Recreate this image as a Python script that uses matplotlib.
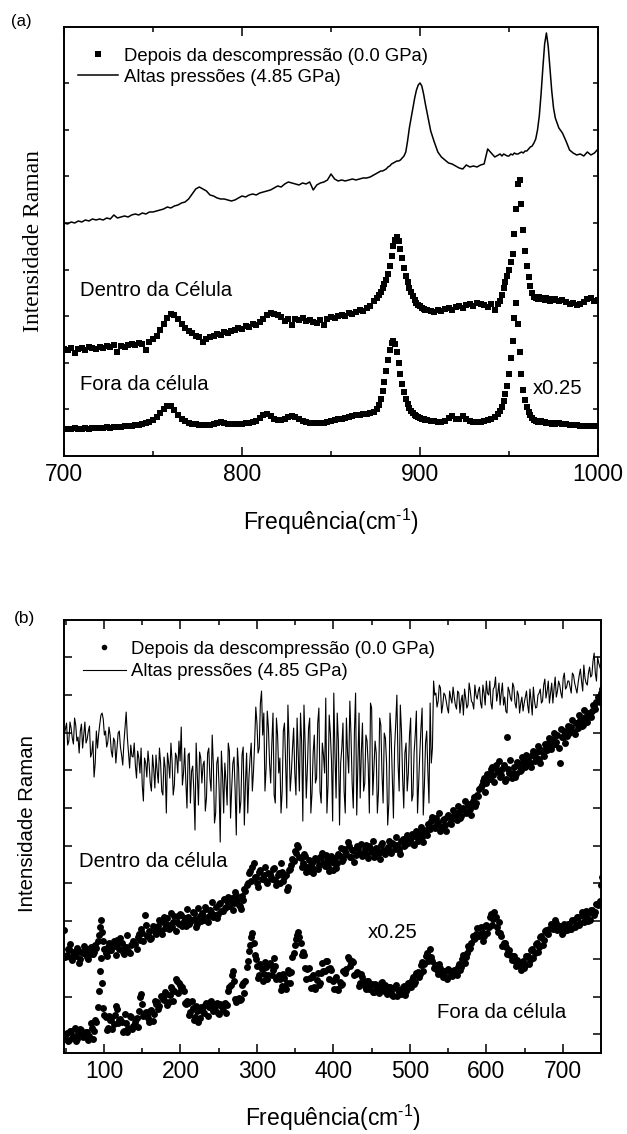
import numpy as np
import matplotlib
matplotlib.use("Agg")
import matplotlib.pyplot as plt
from matplotlib.ticker import MultipleLocator

plt.rcParams['font.family'] = ['Liberation Sans', 'DejaVu Sans']
plt.rcParams['mathtext.fontset'] = 'custom'
plt.rcParams['mathtext.rm'] = 'Liberation Sans'
plt.rcParams['mathtext.default'] = 'regular'

# ---------------- panel (a): 700-1000 cm-1 ----------------
# frequency grid (denser around the strong bands)
freq_a = np.concatenate([np.arange(700, 876, 2), np.arange(876, 904),
                         np.arange(904, 944, 2), np.arange(944, 976),
                         np.arange(976, 1001, 2)])

# high pressure (4.85 GPa), line
alta_a = [233, 232, 234, 233, 235, 234, 236, 235, 237, 236,
          237, 236, 238, 237, 241, 238, 239, 240, 239, 241,
          242, 241, 243, 242, 244, 244, 245, 246, 247, 249,
          248, 250, 251, 253, 254, 257, 262, 267, 269, 267,
          265, 261, 260, 258, 257, 257, 256, 255, 256, 258,
          260, 259, 261, 262, 261, 263, 264, 265, 266, 268,
          270, 269, 272, 274, 273, 272, 271, 273, 272, 274,
          266, 271, 273, 274, 276, 282, 277, 275, 276, 275,
          276, 277, 276, 277, 278, 278, 279, 281,
          283, 284, 285, 285, 286, 287, 289, 290, 292, 293,
          294, 295, 295, 296, 298, 300, 304, 315, 328, 338,
          348, 358, 366, 371, 373, 370, 362, 352,
          343, 325, 314, 304, 299, 296, 293, 292, 290, 288,
          287, 291, 289, 290, 289, 291, 292, 307, 303, 299,
          301, 302, 300, 302, 301, 300, 300, 302, 301, 303,
          302, 302, 303, 304, 303, 305, 305, 307, 309, 310,
          313, 317, 326, 340, 362, 388, 412, 423, 410, 388,
          365, 348,
          338, 328, 323, 315, 306, 303, 301, 302, 300, 304, 301, 303, 307]

# after decompression, inside the cell
dentro_a = [107, 106, 108, 103, 107, 108, 106, 109, 108, 107,
            109, 108, 110, 109, 111, 104, 110, 109, 111, 112,
            111, 113, 112, 106, 114, 117, 120, 126, 132, 138,
            142, 141, 137, 132, 128, 125, 123, 120, 119, 114,
            117, 119, 120, 122, 121, 124, 123, 125, 126, 128,
            127, 130, 129, 132, 131, 134, 137, 141, 143, 142,
            141, 139, 135, 137, 131, 137, 136, 138, 135, 136,
            134, 133, 136, 131, 137, 139, 138, 140, 141, 140,
            143, 142, 144, 146, 145, 148, 150, 155,
            158, 161, 164, 168, 172, 176, 182, 190, 200, 210,
            216, 219, 215, 207, 198, 188, 180, 174, 168, 164,
            160, 156, 153, 151, 150, 148, 147, 146,
            146, 145, 144, 146, 145, 147, 148, 146, 149, 150,
            148, 151, 152, 150, 153, 152, 151, 149, 152, 146,
            152, 155, 161, 168, 174, 180, 186, 194, 202, 222,
            247, 272, 276, 252, 226, 205, 190, 179, 170, 163,
            159, 158, 157, 159, 157, 158, 156, 158, 157, 155,
            157, 156,
            157, 155, 156, 154, 152, 153, 151, 152, 154, 157, 158, 155, 156]

# after decompression, outside the cell (x0.25)
fora_a = [27, 27, 27, 28, 27, 27, 28, 27, 28, 28,
          28, 28, 29, 28, 29, 29, 29, 30, 30, 30,
          31, 31, 32, 33, 34, 36, 39, 43, 47, 50,
          50, 46, 41, 37, 35, 33, 32, 32, 31, 31,
          31, 31, 32, 33, 34, 33, 32, 32, 32, 32,
          32, 33, 33, 34, 35, 38, 41, 42, 40, 37,
          36, 36, 37, 39, 40, 39, 37, 35, 34, 33,
          33, 33, 33, 33, 34, 35, 36, 37, 37, 38,
          39, 40, 41, 41, 42, 42, 43, 44,
          47, 51, 57, 65, 74, 85, 96, 106, 113, 115,
          112, 104, 93, 82, 72, 64, 57, 52, 48, 45,
          43, 41, 40, 39, 38, 37, 37, 36,
          36, 35, 35, 34, 34, 35, 38, 40, 37, 37,
          40, 37, 35, 34, 34, 34, 35, 36, 37, 39,
          42, 45, 49, 55, 62, 70, 82, 98, 115, 138,
          153, 132, 104, 82, 66, 56, 49, 44, 41, 38,
          36, 35, 34, 34, 35, 34, 34, 33, 33, 33,
          32, 33,
          32, 33, 32, 32, 31, 31, 31, 30, 30, 30, 30, 30, 30]

# ---------------- panel (b): 50-750 cm-1 ----------------
# two interleaved sample sets: freq_b and freq_b + 1.5
freq_b = np.arange(48, 751, 3)
freq_b2 = freq_b + 1.5

alta_b = [318, 330, 312, 325, 309, 328, 316, 322, 305, 331,
          314, 327, 300, 276, 322, 319, 338, 334, 322, 311,
          318, 296, 312, 305, 322, 298, 310, 341, 300, 308,
          296, 288, 302, 280, 268, 295, 276, 289, 262, 284,
          298, 270, 290, 258, 285, 300, 275, 292, 268, 296,
          312, 326, 280, 272, 298, 250, 287, 223, 280, 301,
          270, 292, 255, 305, 262, 288, 240, 296, 211, 278,
          290, 248, 302, 265, 296, 218, 285, 252, 306, 270,
          240, 295, 262, 310, 330, 305, 362, 340, 285, 325,
          270, 340, 250, 318, 295, 262, 330, 245, 312, 280,
          325, 258, 300, 340, 232, 310, 285, 335, 260, 318,
          275, 345, 250, 298, 355, 268, 320, 232, 300, 340,
          228, 305, 262, 335, 280, 318, 245, 360, 290, 255,
          330, 270, 312, 240, 345, 285, 300, 262, 328, 250,
          315, 228, 340, 275, 305, 358, 262, 322, 245, 310,
          280, 335, 258, 318, 240, 300, 345, 268, 322, 250,
          290, 372, 360, 352, 365, 348, 358, 345, 362, 350,
          356, 344, 360, 352, 338, 355, 348, 362, 350, 368,
          354, 366, 345, 360, 372, 358, 350, 364, 376, 360,
          348, 370, 356, 340, 362, 352, 366, 345, 358, 350,
          342, 356, 348, 364, 338, 352, 346, 360, 350, 368,
          355, 372, 360, 350, 376, 362, 368, 355, 380, 366,
          372, 360, 378, 365, 370, 384, 362, 375, 368, 386,
          378, 400, 372, 390, 382]

alta_b2 = [324, 308, 331, 315, 335, 312, 300, 329, 318, 310,
           322, 296, 312, 290, 305, 329, 340, 318, 306, 326,
           302, 315, 290, 320, 306, 288, 325, 316, 285, 297,
           310, 275, 295, 305, 252, 290, 302, 270, 298, 265,
           282, 305, 262, 296, 240, 290, 310, 258, 300, 280,
           292, 268, 305, 245, 300, 282, 262, 310, 248, 295,
           288, 242, 300, 275, 318, 230, 290, 265, 302, 240,
           272, 310, 235, 290, 262, 305, 240, 298, 228, 300,
           275, 310, 282, 346, 300, 350, 318, 262, 342, 290,
           310, 258, 335, 280, 240, 322, 290, 348, 262, 305,
           280, 335, 262, 310, 348, 255, 325, 240, 300, 270,
           330, 262, 310, 280, 240, 338, 292, 360, 255, 312,
           290, 330, 240, 300, 352, 270, 322, 238, 340, 300,
           262, 318, 288, 350, 258, 312, 240, 335, 280, 320,
           290, 250, 318, 235, 330, 290, 348, 275, 300, 262,
           318, 252, 300, 342, 270, 325, 238, 310, 282, 350,
           305, 358, 346, 368, 340, 360, 352, 340, 355, 366,
           348, 362, 340, 358, 364, 345, 370, 352, 344, 358,
           362, 350, 368, 348, 360, 372, 344, 366, 352, 370,
           360, 348, 342, 366, 355, 370, 350, 362, 340, 356,
           350, 362, 340, 352, 366, 345, 358, 364, 352, 374,
           362, 350, 370, 364, 356, 372, 360, 375, 364, 372,
           366, 380, 370, 360, 378, 372, 388, 370, 380, 376,
           392, 380, 396, 386, 384]

dentro_b = [123, 98, 104, 95, 101, 97, 103, 94, 100, 102,
            96, 104, 99, 101, 105, 118, 133, 112, 100, 106,
            103, 109, 107, 113, 104, 110, 99, 106, 102, 108,
            112, 109, 116, 113, 120, 138, 117, 122, 115, 124,
            119, 127, 122, 131, 125, 135, 128, 126, 137, 131,
            129, 138, 132, 127, 136, 131, 141, 134, 129, 137,
            140, 133, 144, 137, 141, 136, 146, 139, 150, 142,
            145, 152, 147, 155, 150, 158, 148, 144, 153, 162,
            170, 182, 186, 176, 170, 181, 174, 178, 172, 180,
            176, 184, 173, 178, 170, 181, 176, 163, 183, 188,
            192, 200, 206, 195, 190, 197, 186, 182, 190, 184,
            193, 188, 196, 190, 198, 186, 191, 183, 195, 190,
            197, 192, 204, 199, 207, 196, 203, 198, 205, 200,
            197, 204, 199, 207, 201, 196, 205, 200, 208, 203,
            199, 206, 202, 210, 204, 208, 203, 212, 207, 214,
            210, 215, 209, 217, 212, 220, 216, 223, 218, 226,
            232, 226, 235, 229, 222, 233, 228, 236, 230, 234,
            238, 233, 241, 237, 245, 240, 248, 244, 252, 247,
            258, 264, 268, 275, 270, 279, 284, 278, 288, 281,
            276, 284, 272, 316, 280, 275, 286, 279, 288, 283,
            292, 286, 295, 289, 298, 292, 301, 294, 303, 297,
            305, 310, 304, 314, 309, 318, 290, 316, 322, 317,
            320, 326, 321, 330, 325, 333, 328, 336, 331, 339,
            342, 347, 351, 355, 360]

dentro_b2 = [96, 104, 109, 93, 98, 105, 90, 101, 107, 99,
             94, 106, 99, 108, 112, 126, 121, 104, 97, 110,
             103, 112, 98, 110, 115, 101, 106, 118, 100, 109,
             110, 104, 119, 124, 112, 128, 118, 114, 127, 121,
             125, 133, 119, 136, 129, 124, 140, 131, 122, 137,
             139, 127, 135, 144, 129, 133, 140, 126, 145, 132,
             137, 146, 131, 143, 151, 138, 135, 149, 142, 154,
             146, 156, 150, 143, 161, 153, 147, 157, 164, 168,
             180, 172, 190, 176, 166, 183, 175, 186, 170, 179,
             174, 185, 168, 180, 190, 172, 178, 166, 184, 194,
             202, 208, 196, 186, 199, 181, 193, 188, 180, 195,
             184, 196, 200, 187, 193, 182, 197, 190, 185, 199,
             205, 194, 202, 211, 196, 203, 191, 207, 200, 209,
             199, 208, 195, 205, 212, 198, 203, 194, 210, 201,
             203, 212, 200, 209, 216, 205, 199, 214, 208, 218,
             212, 219, 208, 222, 215, 226, 211, 220, 229, 224,
             236, 225, 231, 240, 226, 234, 222, 238, 229, 243,
             239, 247, 235, 244, 252, 241, 249, 238, 256, 250,
             257, 266, 272, 261, 279, 274, 286, 271, 283, 292,
             278, 288, 274, 284, 293, 280, 276, 291, 282, 296,
             288, 298, 291, 286, 302, 295, 307, 290, 300, 309,
             303, 315, 308, 320, 311, 305, 324, 316, 310, 327,
             324, 333, 319, 330, 338, 327, 343, 332, 340, 336,
             348, 344, 356, 351, 364]

fora_b = [14, 20, 13, 22, 17, 12, 21, 24, 16, 19,
          21, 17, 25, 22, 31, 62, 95, 45, 36, 25,
          33, 24, 38, 44, 33, 31, 22, 30, 25, 36,
          27, 31, 26, 56, 49, 40, 38, 31, 43, 39,
          49, 44, 57, 54, 61, 48, 58, 64, 62, 72,
          70, 65, 62, 49, 50, 41, 45, 36, 42, 35,
          44, 40, 50, 46, 52, 42, 48, 40, 49, 43,
          50, 48, 66, 78, 72, 51, 55, 54, 70, 72,
          92, 108, 120, 98, 87, 78, 84, 79, 86, 78,
          88, 83, 87, 76, 74, 67, 75, 70, 80, 81,
          100, 114, 121, 110, 101, 85, 84, 75, 76, 66,
          73, 68, 80, 82, 92, 84, 85, 72, 74, 64,
          71, 69, 82, 84, 94, 90, 91, 79, 80, 70,
          76, 67, 72, 64, 69, 61, 66, 60, 70, 63,
          68, 60, 66, 58, 66, 57, 63, 59, 67, 62,
          70, 66, 76, 71, 81, 79, 91, 89, 100, 96,
          96, 85, 88, 79, 85, 76, 82, 74, 82, 77,
          83, 78, 89, 86, 98, 96, 107, 105, 117, 115,
          125, 117, 121, 117, 128, 126, 139, 134, 136, 121,
          120, 107, 110, 99, 103, 93, 97, 87, 91, 83,
          92, 88, 97, 93, 104, 100, 110, 106, 117, 113,
          123, 119, 129, 124, 133, 123, 127, 119, 129, 123,
          129, 124, 133, 128, 136, 130, 137, 132, 138, 133,
          143, 138, 149, 150, 168]

fora_b2 = [18, 12, 22, 15, 25, 14, 19, 23, 17, 21,
           13, 30, 14, 33, 46, 82, 70, 38, 23, 37,
           34, 29, 47, 30, 34, 21, 39, 21, 37, 24,
           27, 35, 42, 59, 37, 41, 35, 42, 32, 52,
           51, 47, 56, 53, 59, 51, 66, 52, 74, 60,
           68, 66, 50, 52, 38, 52, 33, 47, 31, 46,
           41, 48, 37, 51, 46, 43, 50, 39, 47, 49,
           40, 62, 68, 82, 54, 54, 53, 68, 60, 86,
           102, 116, 110, 94, 75, 89, 72, 91, 74, 90,
           78, 95, 74, 78, 63, 79, 64, 83, 70, 96,
           108, 118, 116, 98, 98, 74, 85, 65, 78, 64,
           80, 70, 90, 82, 92, 74, 83, 64, 76, 63,
           68, 82, 80, 96, 87, 92, 78, 81, 67, 79,
           70, 64, 72, 67, 61, 69, 63, 66, 71, 62,
           59, 66, 62, 57, 68, 63, 60, 66, 58, 64,
           68, 73, 69, 80, 76, 88, 82, 97, 92, 104,
           92, 87, 83, 89, 79, 82, 76, 84, 78, 80,
           81, 86, 83, 94, 90, 100, 104, 110, 114, 119,
           118, 126, 112, 127, 120, 136, 128, 141, 126, 131,
           117, 110, 106, 101, 98, 97, 92, 93, 88, 89,
           85, 97, 89, 103, 95, 109, 101, 116, 108, 122,
           120, 124, 126, 127, 130, 126, 124, 121, 127, 129,
           124, 133, 126, 136, 128, 141, 131, 142, 132, 143,
           140, 141, 148, 152, 176]

lbl_dep = 'Depois da descompressão (0.0 GPa)'
lbl_alt = 'Altas pressões (4.85 GPa)'
xlab = 'Frequência(cm$^{\\text{-1}}$)'


def style_axes(ax, ylen):
    ax.tick_params(which='both', direction='in', top=True, right=True,
                   width=1.1, labelsize=16.5)
    ax.tick_params(axis='x', which='major', length=6.5, pad=5)
    ax.tick_params(axis='x', which='minor', length=3.6)
    ax.tick_params(axis='y', which='major', length=ylen, labelleft=False)
    for s in ax.spines.values():
        s.set_linewidth(1.4)


fig = plt.figure(figsize=(6.27, 11.34), dpi=100)

# ----- (a)
ax1 = fig.add_axes([0.1021, 0.5979, 0.8517, 0.3783])
ax1.plot(freq_a, dentro_a, 's', ms=4.3, mew=0, color='k', label=lbl_dep)
ax1.plot(freq_a, fora_a, 's', ms=4.6, mew=0, color='k')
ax1.plot(freq_a, alta_a, '-', lw=1.1, color='k', label=lbl_alt)
ax1.set_xlim(700, 1000)
ax1.set_ylim(0, 429)
ax1.set_xticks([700, 800, 900, 1000])
ax1.xaxis.set_minor_locator(MultipleLocator(50))
ax1.set_yticks(np.arange(1, 9) * 46.6)
style_axes(ax1, 3.6)
ax1.set_xlabel(xlab, fontsize=16.5, labelpad=15)
ax1.set_ylabel('Intensidade Raman', fontsize=17, family='Liberation Serif')
ax1.yaxis.set_label_coords(-0.038, 0.5)
ax1.legend(loc='upper left', bbox_to_anchor=(0.026, 0.952), frameon=False,
           fontsize=13.3, handlelength=2.16, handletextpad=0.32,
           labelspacing=0.22, borderpad=0, borderaxespad=0, numpoints=1,
           markerscale=0.85)
ax1.text(0.0306, 0.372, 'Dentro da Célula', transform=ax1.transAxes,
         fontsize=14.6, va='baseline')
ax1.text(0.0306, 0.1545, 'Fora da célula', transform=ax1.transAxes,
         fontsize=14.6, va='baseline')
ax1.text(0.878, 0.145, 'x0.25', transform=ax1.transAxes,
         fontsize=14.6, va='baseline')

# ----- (b)
ax2 = fig.add_axes([0.1021, 0.0714, 0.8565, 0.3818])
dot = dict(marker='o', ls='none', ms=5.0, mew=0, color='k')
ax2.plot(freq_b, dentro_b, label=lbl_dep, **dot)
ax2.plot(freq_b2, dentro_b2, **dot)
ax2.plot(freq_b, fora_b, **dot)
ax2.plot(freq_b2, fora_b2, **dot)
x_line = np.column_stack([freq_b, freq_b2]).ravel()
y_line = np.column_stack([alta_b, alta_b2]).ravel()
ax2.plot(x_line, y_line, '-', lw=0.8, color='k', label=lbl_alt)
ax2.set_xlim(47.7, 750)
ax2.set_ylim(0, 433)
ax2.set_xticks(np.arange(100, 701, 100))
ax2.xaxis.set_minor_locator(MultipleLocator(50))
ax2.set_yticks(18.8 + np.arange(0, 11) * 37.7)
style_axes(ax2, 5.8)
ax2.set_xlabel(xlab, fontsize=16.5, labelpad=14)
ax2.set_ylabel('Intensidade Raman', fontsize=14.7)
ax2.yaxis.set_label_coords(-0.05, 0.53)
ax2.legend(loc='upper left', bbox_to_anchor=(0.0354, 0.9527), frameon=False,
           fontsize=13.3, handlelength=2.3, handletextpad=0.32,
           labelspacing=0.3, borderpad=0, borderaxespad=0, numpoints=1,
           markerscale=0.8)
ax2.text(0.0287, 0.430, 'Dentro da célula', transform=ax2.transAxes,
         fontsize=14.7, va='baseline')
ax2.text(0.5656, 0.2648, 'x0.25', transform=ax2.transAxes,
         fontsize=14.7, va='baseline')
ax2.text(0.6953, 0.0801, 'Fora da célula', transform=ax2.transAxes,
         fontsize=14.7, va='baseline')

fig.text(11 / 627, 1 - 21.5 / 1134, '(a)', fontsize=12, va='center')
fig.text(14 / 627, 1 - 619 / 1134, '(b)', fontsize=12.5, va='center')

fig.savefig('out.png', dpi=100)
